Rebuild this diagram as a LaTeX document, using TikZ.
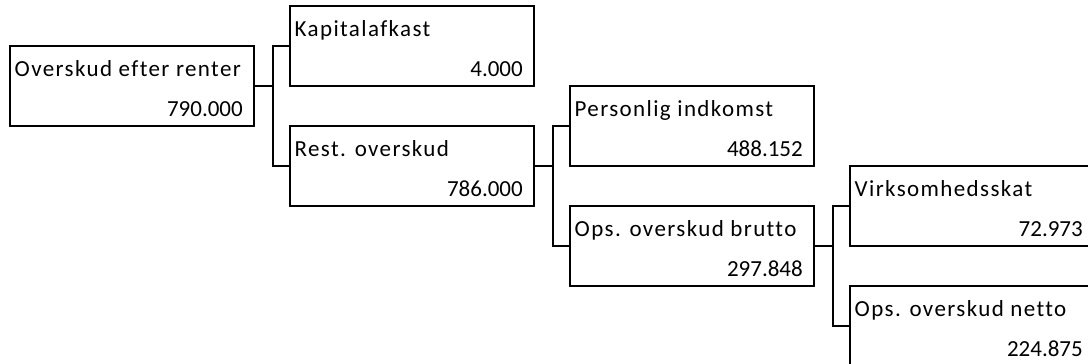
\documentclass[tikz,border=0pt]{standalone}
\usepackage{fontspec}
\setmainfont{Carlito}[Ligatures=NoCommon]
\newfontfamily\namefont{Carlito}[Ligatures=NoCommon, LetterSpace=6]
\begin{document}
\begin{tikzpicture}[x=1pt,y=-1pt,
  acct/.style={draw=black, line width=2pt, rectangle, minimum width=244pt,
    minimum height=80pt, inner sep=0pt, fill=white},
  acctname/.style={anchor=base west, inner sep=0pt, font=\namefont\fontsize{23}{27}\selectfont},
  acctval/.style={anchor=base east, inner sep=0pt, font=\fontsize{23}{27}\selectfont},
  link/.style={draw=black, line width=2pt}]
\path[use as bounding box, clip] (0,0) rectangle (1088,364);

% boxes
\node[acct] (ovr) at (132,86) {};
\node[acct] (kap) at (412,46) {};
\node[acct] (rest) at (412,166) {};
\node[acct] (pers) at (692,126) {};
\node[acct] (brt) at (692,246) {};
\node[acct] (virk) at (972,206) {};
\node[acct] (net) at (972,326) {};

% names and amounts
\foreach \b/\n/\v in {ovr/Overskud efter renter/790.000,
                      kap/Kapitalafkast/4.000,
                      rest/Rest. overskud/786.000,
                      pers/Personlig indkomst/488.152,
                      brt/Ops. overskud brutto/297.848,
                      virk/Virksomhedsskat/72.973,
                      net/Ops. overskud netto/224.875}{
  \node[acctname] (\b-name) at ([xshift=5.5pt,yshift=-31pt]\b.north west) {\n};
  \node[acctval] (\b-val) at ([xshift=-12pt,yshift=-71pt]\b.north east) {\v};
}

% elbow connectors
\draw[link] (ovr.east) -- ++(18,0) coordinate (j1) |- (kap.west);
\draw[link] (j1) |- (rest.west);
\draw[link] (rest.east) -- ++(18,0) coordinate (j2) |- (pers.west);
\draw[link] (j2) |- (brt.west);
\draw[link] (brt.east) -- ++(18,0) coordinate (j3) |- (virk.west);
\draw[link] (j3) |- (net.west);
\end{tikzpicture}
\end{document}
